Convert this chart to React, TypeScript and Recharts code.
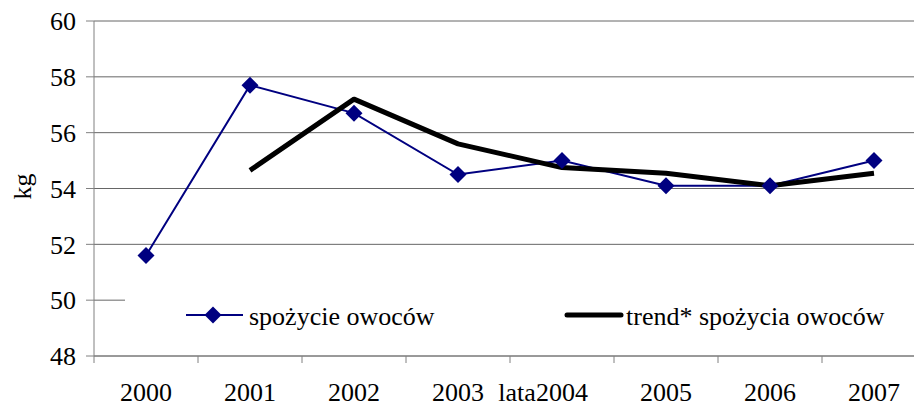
import React from 'react';
import {
  LineChart,
  Line,
  XAxis,
  YAxis,
  CartesianGrid,
  Legend,
} from 'recharts';

const FONT = 'Liberation Serif, Times New Roman, serif';
const NAVY = '#000080';

// lata
const years = ['2000', '2001', '2002', '2003', '2004', '2005', '2006', '2007'];
// spożycie owoców (kg)
const consumption = [51.6, 57.7, 56.7, 54.5, 55.0, 54.1, 54.1, 55.0];
// trend* spożycia owoców (kg) - brak dla 2000
const trend = [null, 54.65, 57.2, 55.6, 54.75, 54.55, 54.1, 54.55];
const yTicks = [48, 50, 52, 54, 56, 58, 60];

const data = years.map((year, i) => ({
  year,
  spozycie: consumption[i],
  trend: trend[i],
}));

const Diamond = (props: any) => {
  const { cx, cy } = props;
  if (cx == null || cy == null) return null;
  const r = 8.5;
  return (
    <polygon
      points={`${cx},${cy - r} ${cx + r},${cy} ${cx},${cy + r} ${cx - r},${cy}`}
      fill={NAVY}
    />
  );
};

const XTick = (props: any) => {
  const { x, y, payload } = props;
  const half = payload && payload.offset ? payload.offset : 52;
  return (
    <g>
      <line x1={x - half} x2={x - half} y1={y - 7} y2={y} stroke="#808080" />
      <text
        x={x}
        y={y + 20}
        dy="0.71em"
        textAnchor="middle"
        fill="#000"
        fontSize={26}
        fontFamily={FONT}
      >
        {payload.value}
      </text>
    </g>
  );
};

const renderLegend = () => (
  <svg width={800} height={48}>
    <line x1={61} x2={118} y1={25} y2={25} stroke={NAVY} strokeWidth={2} />
    <Diamond cx={88} cy={25} />
    <text x={124} y={35} fontSize={26} fontFamily={FONT} fill="#000">
      spożycie owoców
    </text>
    <line
      x1={442}
      x2={496}
      y1={25}
      y2={25}
      stroke="#000"
      strokeWidth={5}
      strokeLinecap="round"
    />
    <text x={501} y={35} fontSize={26} fontFamily={FONT} fill="#000">
      trend* spożycia owoców
    </text>
  </svg>
);

export default function App() {
  return (
    <div
      style={{
        position: 'absolute',
        left: 0,
        top: 0,
        width: 914,
        height: 405,
        overflow: 'hidden',
        background: '#fff',
      }}
    >
      <LineChart
        width={930}
        height={405}
        data={data}
        margin={{ top: 21, right: 4, left: 0, bottom: 0 }}
      >
        <CartesianGrid vertical={false} stroke="#666" />
        <XAxis
          dataKey="year"
          scale="band"
          height={49}
          axisLine={{ stroke: '#808080' }}
          tickLine={false}
          tickSize={7}
          tickMargin={0}
          tick={<XTick />}
          interval={0}
          label={{
            content: (p: any) => {
              const vb = p.viewBox;
              return (
                <text
                  x={vb.x + vb.width / 2 + 7}
                  y={vb.y + 45}
                  textAnchor="middle"
                  fontSize={26}
                  fontFamily={FONT}
                  fill="#000"
                >
                  lata
                </text>
              );
            },
          }}
        />
        <YAxis
          width={94}
          domain={[48, 60]}
          ticks={yTicks}
          interval={0}
          axisLine={{ stroke: '#808080' }}
          tickLine={{ stroke: '#808080' }}
          tickSize={8}
          tickMargin={10}
          tick={{ fill: '#000', fontSize: 26, fontFamily: FONT }}
          label={{
            content: (p: any) => {
              const vb = p.viewBox;
              const cx = 22;
              const cy = vb.y + vb.height / 2 - 2;
              return (
                <text
                  x={cx}
                  y={cy}
                  transform={`rotate(-90 ${cx} ${cy})`}
                  textAnchor="middle"
                  dominantBaseline="central"
                  fontSize={26}
                  fontFamily={FONT}
                  fill="#000"
                >
                  kg
                </text>
              );
            },
          }}
        />
        <Legend
          layout="horizontal"
          verticalAlign="middle"
          align="center"
          content={renderLegend}
          wrapperStyle={{
            left: 125,
            top: 290,
            width: 800,
            height: 48,
            background: '#fff',
          }}
        />
        <Line
          dataKey="spozycie"
          name="spożycie owoców"
          stroke={NAVY}
          strokeWidth={2}
          dot={<Diamond />}
          activeDot={false}
          isAnimationActive={false}
        />
        <Line
          dataKey="trend"
          name="trend* spożycia owoców"
          stroke="#000"
          strokeWidth={5}
          strokeLinejoin="round"
          dot={false}
          activeDot={false}
          isAnimationActive={false}
        />
      </LineChart>
    </div>
  );
}
